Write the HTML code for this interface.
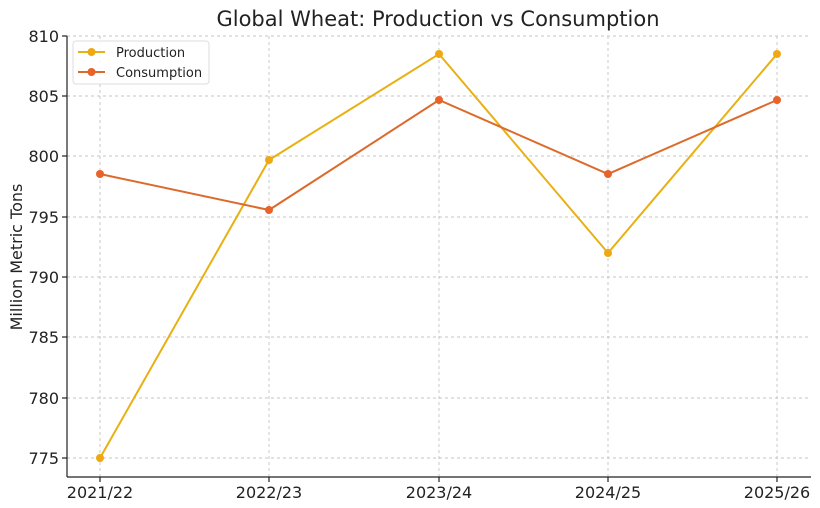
<!DOCTYPE html>
<html><head><meta charset="utf-8"><style>body{margin:0;background:#fff}svg{display:block}text{font-family:"DejaVu Sans","Liberation Sans",sans-serif;fill:#222}</style></head>
<body>
<svg width="820" height="508" viewBox="0 0 820 508" xmlns="http://www.w3.org/2000/svg">
<text x="438" y="26" font-size="21" text-anchor="middle">Global Wheat: Production vs Consumption</text>
<g stroke="#c4c4c4" stroke-width="0.9" stroke-dasharray="3,3">
<line x1="67" x2="811" y1="36" y2="36"/><line x1="67" x2="811" y1="96" y2="96"/><line x1="67" x2="811" y1="156" y2="156"/><line x1="67" x2="811" y1="217" y2="217"/><line x1="67" x2="811" y1="277" y2="277"/><line x1="67" x2="811" y1="337" y2="337"/><line x1="67" x2="811" y1="398" y2="398"/><line x1="67" x2="811" y1="458" y2="458"/>
<line x1="100" x2="100" y1="36" y2="477"/><line x1="269" x2="269" y1="36" y2="477"/><line x1="439" x2="439" y1="36" y2="477"/><line x1="608" x2="608" y1="36" y2="477"/><line x1="777" x2="777" y1="36" y2="477"/>
</g>
<g stroke="#222" stroke-width="1.2">
<line x1="67" x2="67" y1="36" y2="477"/><line x1="67" x2="811" y1="477" y2="477"/>
<line x1="62" x2="67" y1="36" y2="36"/><line x1="62" x2="67" y1="96" y2="96"/><line x1="62" x2="67" y1="156" y2="156"/><line x1="62" x2="67" y1="217" y2="217"/><line x1="62" x2="67" y1="277" y2="277"/><line x1="62" x2="67" y1="337" y2="337"/><line x1="62" x2="67" y1="398" y2="398"/><line x1="62" x2="67" y1="458" y2="458"/>
<line x1="100" x2="100" y1="477" y2="482"/><line x1="269" x2="269" y1="477" y2="482"/><line x1="439" x2="439" y1="477" y2="482"/><line x1="608" x2="608" y1="477" y2="482"/><line x1="777" x2="777" y1="477" y2="482"/>
</g>
<g font-size="16" text-anchor="end">
<text x="59" y="42">810</text><text x="59" y="102">805</text><text x="59" y="162">800</text><text x="59" y="223">795</text><text x="59" y="283">790</text><text x="59" y="343">785</text><text x="59" y="404">780</text><text x="59" y="464">775</text>
</g>
<g font-size="16" text-anchor="middle">
<text x="100" y="498">2021/22</text><text x="269" y="498">2022/23</text><text x="439" y="498">2023/24</text><text x="608" y="498">2024/25</text><text x="777" y="498">2025/26</text>
</g>
<text transform="translate(22,257) rotate(-90)" font-size="16" text-anchor="middle">Million Metric Tons</text>
<polyline fill="none" stroke="#e8b012" stroke-width="2" points="100,458 269,160 439,54 608,253 777,54"/>
<g fill="#f0a812"><circle cx="100" cy="458" r="4"/><circle cx="269" cy="160" r="4"/><circle cx="439" cy="54" r="4"/><circle cx="608" cy="253" r="4"/><circle cx="777" cy="54" r="4"/></g>
<polyline fill="none" stroke="#dc6a2a" stroke-width="2" points="100,174 269,210 439,100 608,174 777,100"/>
<g fill="#e8632a"><circle cx="100" cy="174" r="4"/><circle cx="269" cy="210" r="4"/><circle cx="439" cy="100" r="4"/><circle cx="608" cy="174" r="4"/><circle cx="777" cy="100" r="4"/></g>
<rect x="73" y="41" width="136" height="43" rx="3" fill="#fff" fill-opacity="0.85" stroke="#ddd"/>
<line x1="78" x2="105" y1="52" y2="52" stroke="#e8b012" stroke-width="2"/><circle cx="91.5" cy="52" r="4" fill="#f0a812"/>
<line x1="78" x2="105" y1="72" y2="72" stroke="#dc6a2a" stroke-width="2"/><circle cx="91.5" cy="72" r="4" fill="#e8632a"/>
<text x="116" y="57" font-size="13">Production</text>
<text x="116" y="77" font-size="13">Consumption</text>
</svg>
</body></html>
